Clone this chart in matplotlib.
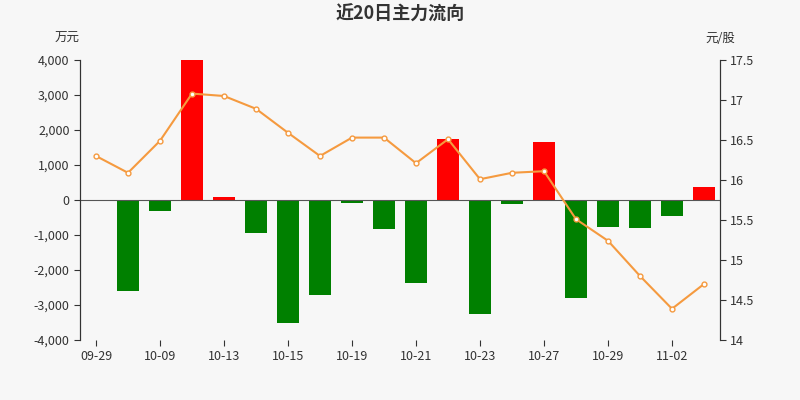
import matplotlib
matplotlib.use('Agg')
import matplotlib.pyplot as plt
from matplotlib.ticker import FuncFormatter

plt.rcParams['font.family'] = ['Noto Sans CJK SC', 'DejaVu Sans']

dates = ['09-29','09-30','10-09','10-12','10-13','10-14','10-15','10-16','10-19','10-20',
         '10-21','10-22','10-23','10-26','10-27','10-28','10-29','10-30','11-02','11-03']
flow = [0, -2600, -300, 4000, 100, -950, -3500, -2700, -80, -830,
        -2380, 1750, -3250, -120, 1650, -2800, -760, -800, -470, 380]
price = [16.30, 16.09, 16.49, 17.08, 17.05, 16.89, 16.59, 16.30, 16.53, 16.53,
         16.21, 16.51, 16.01, 16.09, 16.11, 15.51, 15.24, 14.80, 14.39, 14.70]

bg = '#f7f7f7'
fig = plt.figure(figsize=(8, 4), dpi=100, facecolor=bg)
ax = fig.add_axes([0.1, 0.15, 0.8, 0.70], facecolor=bg)
x = list(range(len(dates)))
colors = ['#ff0000' if v >= 0 else '#008000' for v in flow]
ax.bar(x, flow, width=0.7, color=colors, zorder=2)
ax.axhline(0, color='#555555', lw=0.8, zorder=3)
ax.set_ylim(-4000, 4000)
ax.set_yticks(range(-4000, 4001, 1000))
ax.yaxis.set_major_formatter(FuncFormatter(lambda v, p: f'{int(v):,}'))
ax.set_xlim(-0.5, len(dates) - 0.5)
ax.set_xticks(x[::2])
ax.set_xticklabels(dates[::2])

ax2 = ax.twinx()
ax2.plot(x, price, color='#f59a3f', lw=1.5, marker='o', ms=3.5,
         mfc='white', mec='#f59a3f', mew=1, zorder=4)
ax2.set_ylim(14, 17.5)
ax2.set_yticks([14, 14.5, 15, 15.5, 16, 16.5, 17, 17.5])
ax2.set_yticklabels(['14', '14.5', '15', '15.5', '16', '16.5', '17', '17.5'])

for a in (ax, ax2):
    for s in ('top',):
        a.spines[s].set_visible(False)
    a.spines['left'].set_color('#333333')
    a.spines['right'].set_color('#333333')
    a.spines['bottom'].set_visible(False)
    a.tick_params(labelsize=9, colors='#333333', length=4)

fig.text(0.5, 0.965, '近20日主力流向', ha='center', va='center', fontsize=13,
         fontweight='bold', color='#333333')
fig.text(0.1, 0.903, '万元', ha='right', va='center', fontsize=9, color='#333333')
fig.text(0.9, 0.903, '元/股', ha='center', va='center', fontsize=9, color='#333333')
fig.savefig('out.png', dpi=100, facecolor=bg)
